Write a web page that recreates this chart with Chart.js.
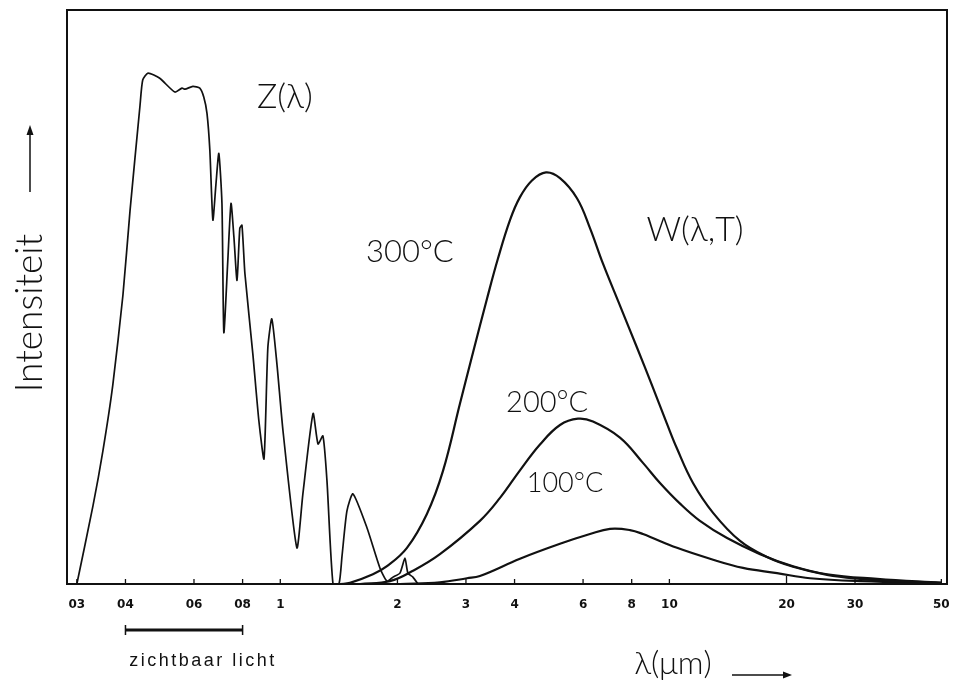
<!DOCTYPE html>
<html><head><meta charset="utf-8">
<script src="https://cdn.jsdelivr.net/npm/chart.js@4.4.1/dist/chart.umd.min.js"></script>
<style>html,body{margin:0;padding:0;background:#fff}#wrap{width:954px;height:682px}</style>
</head><body><div id="wrap"><canvas id="c" width="954" height="682"></canvas></div>
<script>
// ---- data (wavelength in µm, intensity in arbitrary units 0..100) ----
const tickValues = [0.3,0.4,0.6,0.8,1,2,3,4,6,8,10,20,30,50];
const tickLabels = ["03","04","06","08","1","2","3","4","6","8","10","20","30","50"];

const zLambda = [0.300,0.330,0.350,0.371,0.394,0.411,0.436,0.443,0.457,0.490,
  0.536,0.559,0.569,0.596,0.621,0.636,0.648,0.659,0.671,0.683,
  0.695,0.708,0.716,0.733,0.747,0.760,0.774,0.787,0.797,0.811,
  0.850,0.881,0.908,0.929,0.951,0.980,1.016,1.103,1.143,1.214,
  1.250,1.287,1.318,1.366,1.415,1.441,1.483,1.537,1.670,1.803,
  1.880,1.948,2.030,2.091,2.128,2.192,2.258];
const zIntensity = [0,13.6,23.2,34.6,50.3,65.1,83.4,87.8,89.0,88.1,
  85.7,86.4,86.2,86.7,86.4,84.8,82.0,75.6,63.4,69.5,
  75.0,66.3,43.8,56.4,66.3,60.4,52.9,62.0,62.5,54.1,
  40.1,28.4,21.8,41.2,46.2,38.4,26.7,6.3,15.7,29.7,
  24.4,25.8,18.0,0,0,4.9,12.7,15.7,9.8,2.8,
  0.5,1.2,1.9,4.5,1.9,1.2,0];

const w300Lambda = [1.424,1.510,1.730,1.880,2.116,2.381,2.619,2.895,3.127,3.398,
  3.626,3.893,4.130,4.434,4.817,5.234,5.787,6.250,6.751,7.465,
  8.254,9.024,9.860,10.46,11.50,12.95,15.19,17.82,20.79,25.42,
  30.9,37.6,50];
const w300Intensity = [0,0.2,1.7,3.1,6.3,12.2,19.7,31.4,40.3,49.7,
  56.7,63.4,67.4,70.3,71.7,70.7,67.2,62.0,55.8,48.5,
  41.2,34.6,27.9,23.6,17.6,12.4,7.5,4.7,3.0,1.6,
  0.9,0.5,0.2];

const w200Lambda = [1.603,1.913,2.192,2.572,3.259,3.670,4.130,4.649,5.234,5.821,
  6.362,7.465,8.552,9.458,10.65,11.98,14.07,17.10,20.79,25.42,34.2,50];
const w200Intensity = [0,0.5,2.3,5.2,11.0,15.0,19.8,24.3,27.7,28.8,
  28.3,25.5,21.1,17.6,14.0,11.0,8.0,5.2,3.1,1.7,0.9,0.2];

const w100Lambda = [2.030,2.572,3.018,3.259,4.130,5.234,6.250,7.037,7.919,8.552,
  10.46,12.72,15.46,18.91,22.98,30.9,50];
const w100Intensity = [0,0.3,1.0,1.4,4.4,7.0,8.7,9.6,9.4,8.7,
  6.3,4.4,2.8,1.9,1.0,0.5,0.2];

const visibleRange = [0.4, 0.8];

// ---- annotations (placed in data space) ----
const notes = [
  {text:"Z(λ)",   x:1.027, y:84.8, size:34},
  {text:"300°C",  x:2.153, y:57.8, size:31},
  {text:"W(λ,T)", x:11.64, y:61.6, size:34},
  {text:"200°C",  x:4.85,  y:31.6, size:29},
  {text:"100°C",  x:5.39,  y:17.6, size:27}
];
const FONT = 'Lato, "Open Sans", "DejaVu Sans", sans-serif';

function pts(xs, ys){ return xs.map((x,i)=>({x:x, y:ys[i]})); }

const deco = {
  id:'deco',
  afterDraw(chart){
    const ctx = chart.ctx, a = chart.chartArea;
    const xs = chart.scales.x, ys = chart.scales.y;
    ctx.save();
    // frame
    ctx.strokeStyle = '#111'; ctx.lineWidth = 2;
    ctx.strokeRect(a.left, a.top, a.right - a.left, a.bottom - a.top);
    // inward ticks
    ctx.lineWidth = 1.3;
    tickValues.forEach(v=>{
      const px = xs.getPixelForValue(v);
      ctx.beginPath(); ctx.moveTo(px, a.bottom); ctx.lineTo(px, a.bottom - (v===20?8:5)); ctx.stroke();
    });
    // annotation labels
    ctx.fillStyle = '#111'; ctx.textAlign = 'center'; ctx.textBaseline = 'middle';
    notes.forEach(n=>{
      ctx.font = '300 ' + n.size + 'px ' + FONT;
      ctx.fillText(n.text, xs.getPixelForValue(n.x), ys.getPixelForValue(n.y));
    });
    // visible light bar
    const x1 = xs.getPixelForValue(visibleRange[0]), x2 = xs.getPixelForValue(visibleRange[1]);
    const by = a.bottom + 46;
    ctx.lineWidth = 3;
    ctx.beginPath(); ctx.moveTo(x1, by); ctx.lineTo(x2, by); ctx.stroke();
    ctx.lineWidth = 1.5;
    ctx.beginPath(); ctx.moveTo(x1, by-5); ctx.lineTo(x1, by+5); ctx.moveTo(x2, by-5); ctx.lineTo(x2, by+5); ctx.stroke();
    ctx.font = '18px "Liberation Sans", Arial, sans-serif';
    if ('letterSpacing' in ctx) ctx.letterSpacing = '2.5px';
    ctx.fillText('zichtbaar licht', 203, by + 31);
    if ('letterSpacing' in ctx) ctx.letterSpacing = '0px';
    // x-axis title with arrow
    ctx.font = '300 32px ' + FONT;
    ctx.fillText('λ(μm)', 673, 664);
    ctx.lineWidth = 1.5;
    ctx.beginPath(); ctx.moveTo(732, 675); ctx.lineTo(786, 675); ctx.stroke();
    ctx.beginPath(); ctx.moveTo(792, 675); ctx.lineTo(783, 671.5); ctx.lineTo(783, 678.5); ctx.closePath(); ctx.fill();
    // y-axis title with arrow
    ctx.save();
    ctx.translate(30, 313); ctx.rotate(-Math.PI/2);
    ctx.font = '300 37px ' + FONT;
    ctx.fillText('Intensiteit', 0, 0);
    ctx.restore();
    ctx.beginPath(); ctx.moveTo(30, 192); ctx.lineTo(30, 132); ctx.stroke();
    ctx.beginPath(); ctx.moveTo(30, 125); ctx.lineTo(26.5, 135); ctx.lineTo(33.5, 135); ctx.closePath(); ctx.fill();
    ctx.restore();
  }
};

const lineBase = {borderColor:'#111', pointRadius:0, fill:false};

new Chart(document.getElementById('c'), {
  type:'line',
  data:{
    datasets:[
      Object.assign({label:'Z(λ)', data:pts(zLambda, zIntensity), borderWidth:1.7, tension:0.2}, lineBase),
      Object.assign({label:'300°C', data:pts(w300Lambda, w300Intensity), borderWidth:2.2, tension:0.4}, lineBase),
      Object.assign({label:'200°C', data:pts(w200Lambda, w200Intensity), borderWidth:2.2, tension:0.4}, lineBase),
      Object.assign({label:'100°C', data:pts(w100Lambda, w100Intensity), borderWidth:2.2, tension:0.4}, lineBase)
    ]
  },
  options:{
    responsive:false, animation:false, devicePixelRatio:1,
    layout:{padding:{top:10, right:7, left:0, bottom:0}},
    plugins:{legend:{display:false}, tooltip:{enabled:false}},
    scales:{
      x:{
        type:'logarithmic', min:0.283, max:51.7,
        afterBuildTicks:(s)=>{ s.ticks = tickValues.map(v=>({value:v})); },
        afterFit:(s)=>{ s.height = 98; s.paddingLeft = 0; s.paddingRight = 0; },
        grid:{display:false, drawTicks:false},
        border:{display:false},
        ticks:{
          autoSkip:false, maxRotation:0, minRotation:0, padding:14, color:'#111',
          font:{family:'"DejaVu Sans", sans-serif', size:12, weight:'bold'},
          callback:(v, i)=> tickLabels[i]
        }
      },
      y:{
        min:0, max:100,
        afterFit:(s)=>{ s.width = 67; },
        grid:{display:false, drawTicks:false},
        border:{display:false},
        ticks:{display:false}
      }
    }
  },
  plugins:[deco]
});
</script>
</body></html>
